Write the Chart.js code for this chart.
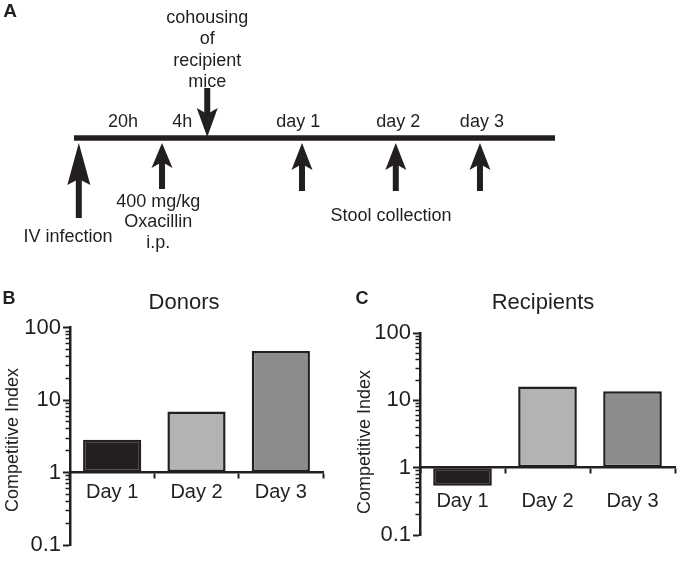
<!DOCTYPE html>
<html>
<head>
<meta charset="utf-8">
<script src="https://cdn.jsdelivr.net/npm/chart.js@4.4.1/dist/chart.umd.min.js"></script>
<style>
  html, body { margin: 0; padding: 0; background: #fff; width: 678px; height: 561px; overflow: hidden; }
  .box { position: absolute; }
</style>
</head>
<body>
<div class="box" style="left:0;top:0;width:678px;height:265px"><canvas id="cA"></canvas></div>
<div class="box" style="left:0;top:280px;width:340px;height:281px"><canvas id="cB"></canvas></div>
<div class="box" style="left:340px;top:280px;width:338px;height:281px"><canvas id="cC"></canvas></div>
<script>
// ---------------- DATA ----------------
// Panel A: schematic timeline (positions in timeline units 0..100)
const timelineStart = 0;
const timelineEnd = 100;
const upArrowPos  = [1.0, 18.3, 47.4, 66.9, 84.4];     // IV infection, oxacillin, day 1, day 2, day 3
const upArrowTail = [-80, -51, -53, -53, -53];
const upArrowHead = [-47, -30, -32, -32, -32];
const downArrowPos  = [27.7];                         // cohousing
const downArrowTail = [50];
const downArrowHead = [30];
const intervalLabels = ['20h', '4h', 'day 1', 'day 2', 'day 3'];
const intervalPos    = [10.2, 22.5, 46.6, 67.4, 84.8];
const noteLines = [
  ['IV infection'],
  ['400 mg/kg', 'Oxacillin', 'i.p.'],
  ['Stool collection'],
  ['cohousing', 'of', 'recipient', 'mice']
];
const notePos  = [-1.25, 17.5, 65.9, 27.7];
const noteTopY = [-99, -64, -78, 120];     // first line level
const noteStep = [-20.5, -20.5, -20.5, -21.3];

// Panels B and C
const categories = ['Day 1', 'Day 2', 'Day 3'];
const donorValues = [2.83, 6.94, 47.7];
const recipientValues = [0.54, 16.1, 13.6];
const barColors = ['#231f20', '#b3b3b3', '#8c8c8c'];
const majorTicks = [0.1, 1, 10, 100];

// ---------------- STYLE ----------------
const ink = '#231f20';
const FAM = '"Liberation Sans", Arial, Helvetica, sans-serif';
Chart.defaults.font.family = FAM;
Chart.defaults.color = ink;

// ---------------- PANEL A ----------------
function drawArrow(ctx, x, tipY, baseY, tailY, headW, shaftW) {
  const dir = Math.sign(tipY - baseY);          // +1 pointing down, -1 pointing up
  const shaftStart = baseY + dir * 8;
  ctx.fillRect(x - shaftW / 2, Math.min(shaftStart, tailY), shaftW, Math.abs(tailY - shaftStart));
  ctx.beginPath();
  ctx.moveTo(x, tipY);
  ctx.lineTo(x - headW / 2, baseY);
  ctx.lineTo(x, baseY + dir * 6);
  ctx.lineTo(x + headW / 2, baseY);
  ctx.closePath();
  ctx.fill();
}

const timelinePlugin = {
  id: 'timelinePlugin',
  afterDatasetsDraw(chart) {
    const ctx = chart.ctx, xs = chart.scales.x, ys = chart.scales.y;
    ctx.save();
    ctx.fillStyle = ink;
    upArrowPos.forEach((p, i) => {
      drawArrow(ctx, xs.getPixelForValue(p), ys.getPixelForValue(-5),
        ys.getPixelForValue(upArrowHead[i]), ys.getPixelForValue(upArrowTail[i]),
        i === 0 ? 23 : 21, 6);
    });
    downArrowPos.forEach((p, i) => {
      drawArrow(ctx, xs.getPixelForValue(p), ys.getPixelForValue(1),
        ys.getPixelForValue(downArrowHead[i]), ys.getPixelForValue(downArrowTail[i]), 21, 6);
    });
    ctx.textAlign = 'center';
    ctx.textBaseline = 'middle';
    ctx.font = '18px ' + FAM;
    intervalLabels.forEach((t, i) => {
      ctx.fillText(t, xs.getPixelForValue(intervalPos[i]), ys.getPixelForValue(16));
    });
    noteLines.forEach((lines, i) => {
      lines.forEach((t, j) => {
        ctx.fillText(t, xs.getPixelForValue(notePos[i]), ys.getPixelForValue(noteTopY[i] + j * noteStep[i]));
      });
    });
    ctx.font = 'bold 19px ' + FAM;
    ctx.fillText('A', 10, 12);
    ctx.restore();
  }
};

new Chart(document.getElementById('cA'), {
  type: 'scatter',
  data: {
    datasets: [{
      data: [{ x: timelineStart, y: 0 }, { x: timelineEnd, y: 0 }],
      showLine: true, borderColor: ink, borderWidth: 5.5, pointRadius: 0,
      borderCapStyle: 'butt', clip: false
    }]
  },
  options: {
    animation: false, responsive: true, maintainAspectRatio: false,
    layout: { padding: { left: 74, right: 123, top: 0, bottom: 0 } },
    scales: {
      x: { type: 'linear', display: false, min: 0, max: 100 },
      y: { type: 'linear', display: false, min: -127, max: 138 }
    },
    plugins: { legend: { display: false }, tooltip: { enabled: false } },
    events: []
  },
  plugins: [timelinePlugin]
});

// ---------------- PANELS B & C ----------------
const panelText = {
  id: 'panelText',
  afterDraw(chart, args, o) {
    const ctx = chart.ctx;
    ctx.save();
    ctx.fillStyle = ink;
    ctx.textAlign = 'center';
    ctx.textBaseline = 'middle';
    ctx.font = 'bold 18px ' + FAM;
    ctx.fillText(o.letter, o.letterX, o.letterY);
    ctx.font = '22px ' + FAM;
    ctx.fillText(o.title, o.titleX, o.titleY);
    ctx.translate(o.yTitleX, o.yTitleY);
    ctx.rotate(-Math.PI / 2);
    ctx.font = '18px ' + FAM;
    ctx.fillText('Competitive Index', 0, 0);
    ctx.restore();
  }
};

const isMajor = v => majorTicks.some(m => Math.abs(m - v) < 1e-9);

function barPanel(id, values, g) {
  return new Chart(document.getElementById(id), {
    type: 'bar',
    data: {
      labels: categories,
      datasets: [{
        data: values, base: 1,
        backgroundColor: barColors, borderColor: ink, borderWidth: 2.5, borderSkipped: false,
        barPercentage: 0.69, categoryPercentage: 1
      }]
    },
    options: {
      animation: false, responsive: true, maintainAspectRatio: false, events: [],
      layout: { padding: { left: 0, right: g.padRight, top: g.padTop, bottom: g.padBottom } },
      plugins: {
        legend: { display: false }, tooltip: { enabled: false },
        panelText: g.text
      },
      scales: {
        x: {
          type: 'category', position: { y: 1 }, offset: true,
          grid: { display: true, drawOnChartArea: false, drawTicks: true, tickLength: 5, tickWidth: 2, tickColor: ink },
          border: { display: true, width: 2.5, color: ink },
          ticks: { font: { size: 20 }, color: ink, padding: g.xPad, maxRotation: 0, autoSkip: false }
        },
        y: {
          type: 'logarithmic', position: 'left', min: 0.1, max: 100,
          afterFit(s) { s.width = g.axisX; },
          afterBuildTicks(s) {
            const t = [];
            majorTicks.forEach((d, i) => {
              t.push({ value: d, major: true });
              if (i < majorTicks.length - 1) for (let k = 2; k <= 9; k++) t.push({ value: d * k, major: false });
            });
            s.ticks = t;
          },
          ticks: {
            callback: v => (isMajor(v) ? String(v) : ''),
            font: { size: 22 }, color: ink, padding: 2, autoSkip: false
          },
          grid: {
            drawOnChartArea: false, drawTicks: true, tickLength: 7, tickColor: ink,
            tickWidth: c => (c.tick && isMajor(c.tick.value) ? 2 : 1.6),
            tickBorderDash: c => (c.tick && isMajor(c.tick.value) ? [] : [0, 2.5, 20, 0])
          },
          border: { display: true, width: 2.5, color: ink }
        }
      }
    },
    plugins: [panelText]
  });
}

barPanel('cB', donorValues, {
  axisX: 70, padTop: 47.7, padBottom: 16, padRight: 17, xPad: 3,
  text: { letter: 'B', letterX: 9, letterY: 19, title: 'Donors', titleX: 184, titleY: 23, yTitleX: 13, yTitleY: 160 }
});
barPanel('cC', recipientValues, {
  axisX: 80, padTop: 53, padBottom: 26, padRight: 3, xPad: 17,
  text: { letter: 'C', letterX: 22, letterY: 19, title: 'Recipients', titleX: 203, titleY: 23, yTitleX: 25, yTitleY: 162 }
});
</script>
</body>
</html>
